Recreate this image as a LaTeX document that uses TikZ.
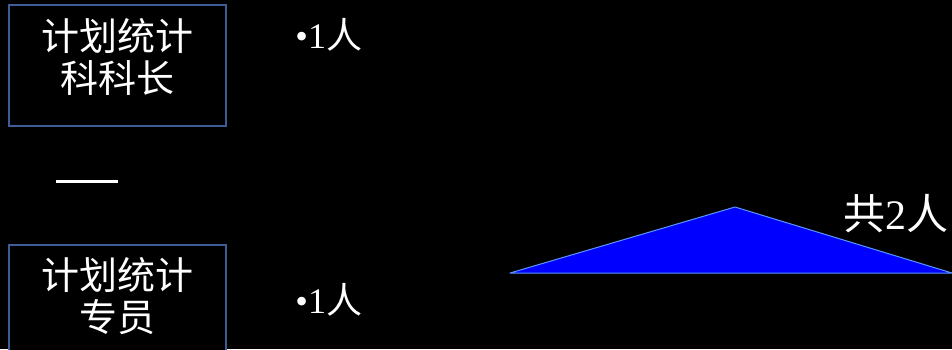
\documentclass[tikz,border=0pt]{standalone}
\usepackage{fontspec}
\setmainfont{Liberation Serif}
\newfontfamily\cjkfont{Noto Sans CJK SC}
\usetikzlibrary{positioning}
\definecolor{boxblue}{RGB}{62,92,150}
\definecolor{triblue}{RGB}{0,0,255}
\definecolor{triedge}{RGB}{90,150,255}
\tikzset{
	postbox/.style={rectangle, draw=boxblue, line width=2.5pt, fill=black,
		minimum width=217pt, minimum height=121pt, inner sep=0pt},
	posttext/.style={align=center, text=white, inner sep=0pt,
		font=\fontsize{38}{42}\selectfont\cjkfont},
	countlbl/.style={text=white, font=\fontsize{36}{38}\selectfont, inner sep=0pt},
	sumlbl/.style={text=white, font=\fontsize{42}{44}\selectfont, inner sep=0pt}
}

\begin{document}
\begin{tikzpicture}[x=1pt, y=1pt]
	\fill[black] (0,0) rectangle (952,349);
	\useasboundingbox (0,0) rectangle (952,349);
	\node[postbox] (head) at (117.5,283.5) {};
	\node[posttext, yshift=9pt] (headtxt) at (head.center) {计划统计\\科科长};
	\node[postbox] (staff) at (117.5,43.5) {};
	\node[posttext, yshift=9pt] (stafftxt) at (staff.center) {计划统计\\专员};
	\node[countlbl, right=68pt of head.north east, anchor=north west, yshift=-14pt] (headnum) {•1{\cjkfont 人}};
	\node[countlbl, anchor=west] (staffnum) at (headnum.west |- 0,49) {•1{\cjkfont 人}};
	\coordinate (dashl) at (56,168);
	\coordinate (dashr) at (118,168);
	\draw[white, line width=3pt] (dashl) -- (dashr);
	% triangle
	\coordinate (tril) at (510,76);
	\coordinate (trit) at (735,142);
	\coordinate (trir) at (952,76);
	\filldraw[fill=triblue, draw=triedge, line width=1pt, line join=round] (tril) -- (trit) -- (trir) -- cycle;
	\node[sumlbl, anchor=east] (total) at (949,135) {{\cjkfont 共}2{\cjkfont 人}};
\end{tikzpicture}
\end{document}
